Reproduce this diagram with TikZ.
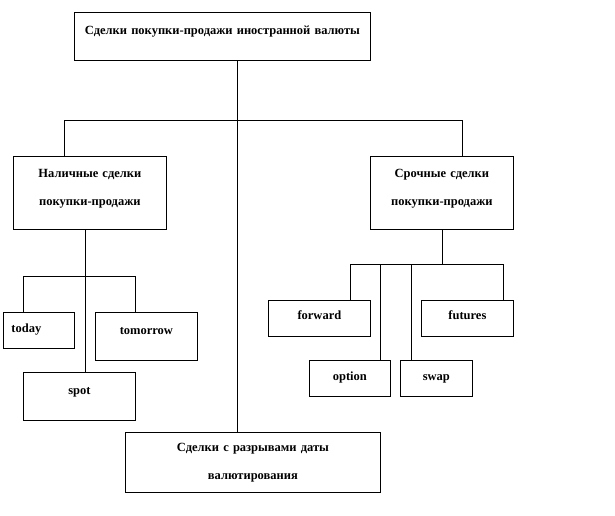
\documentclass[tikz,border=0pt]{standalone}
\usepackage{fontspec}
\setmainfont{Liberation Serif}
\usetikzlibrary{positioning}

\tikzset{
  box/.style={draw, line width=.8pt, anchor=north west,
    inner xsep=0pt, inner ysep=0pt, align=center,
    font=\bfseries\fontsize{12.5}{28}\selectfont},
  link/.style={line width=.8pt}
}

\begin{document}
\begin{tikzpicture}[x=1pt, y=-1pt]
  \useasboundingbox (0,0) rectangle (615,516);
  % boxes
  \node[box, text width=296pt, text height=22pt, text depth=26pt] (deals) at (74,12)
    {Сделки покупки-продажи иностранной валюты};
  \node[box, text width=153pt, text height=21pt, text depth=52pt] (cash) at (13,156)
    {Наличные сделки\\покупки-продажи};
  \node[box, text width=143pt, text height=21pt, text depth=52pt] (term) at (370,156)
    {Срочные сделки\\покупки-продажи};
  \node[box, inner xsep=8pt, align=left, text width=55pt, text height=20pt, text depth=16pt] (today) at (3,312) {today};
  \node[box, text width=102pt, text height=22pt, text depth=26pt] (tomorrow) at (95,312) {tomorrow};
  \node[box, text width=112pt, text height=22pt, text depth=26pt] (spot) at (23,372) {spot};
  \node[box, text width=102pt, text height=19pt, text depth=17pt] (forward) at (268,300) {forward};
  \node[box, text width=92pt, text height=19pt, text depth=17pt] (futures) at (421,300) {futures};
  \node[box, text width=81pt, text height=20pt, text depth=16pt] (option) at (309,360) {option};
  \node[box, text width=72pt, text height=20pt, text depth=16pt] (swap) at (400,360) {swap};
  \node[box, text width=255pt, text height=19pt, text depth=41pt] (gap) at (125,432)
    {Сделки с разрывами даты\\валютирования};
  % junctions
  \coordinate (trunk) at (237,120);
  \coordinate (lbar) at (64,120);
  \coordinate (rbar) at (462,120);
  \coordinate (lj) at (85,276);
  \coordinate (lt) at (23,276);
  \coordinate (lm) at (135,276);
  \coordinate (rj) at (442,264);
  \coordinate (rf) at (350,264);
  \coordinate (ro) at (380,264);
  \coordinate (rs) at (411,264);
  \coordinate (ru) at (503,264);
  % links
  \draw[link] (deals.south -| trunk) -- (trunk |- gap.north);
  \draw[link] (cash.north -| lbar) -- (lbar) -- (rbar) -- (term.north -| rbar);
  \draw[link] (cash.south -| lj) -- (lj |- spot.north);
  \draw[link] (today.north -| lt) -- (lt) -- (lm) -- (tomorrow.north -| lm);
  \draw[link] (term.south -| rj) -- (rj);
  \draw[link] (forward.north -| rf) -- (rf) -- (ru) -- (futures.north -| ru);
  \draw[link] (ro) -- (ro |- option.north);
  \draw[link] (rs) -- (rs |- swap.north);
\end{tikzpicture}
\end{document}
